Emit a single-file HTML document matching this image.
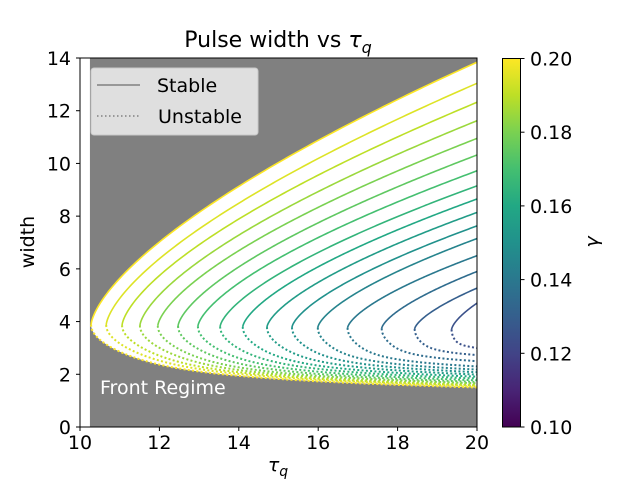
<!DOCTYPE html>
<html><head><meta charset="utf-8"><style>
html,body{margin:0;padding:0;background:#fff;}
svg{display:block;font-family:"DejaVu Sans","Liberation Sans",sans-serif;}
</style></head><body>
<svg id="chart" width="640" height="480" viewBox="0 0 640 480">
<defs><clipPath id="plotclip"><rect x="80" y="58" width="397" height="369"/></clipPath>
<linearGradient id="viridis" x1="0" y1="1" x2="0" y2="0">
<stop offset="0" stop-color="#440154"/><stop offset="0.1" stop-color="#482475"/><stop offset="0.2" stop-color="#414487"/><stop offset="0.3" stop-color="#355f8d"/><stop offset="0.4" stop-color="#2a788e"/><stop offset="0.5" stop-color="#21918c"/><stop offset="0.6" stop-color="#22a884"/><stop offset="0.7" stop-color="#44bf70"/><stop offset="0.8" stop-color="#7ad151"/><stop offset="0.9" stop-color="#bddf26"/><stop offset="1" stop-color="#fde725"/>
</linearGradient></defs>
<g id="plot" clip-path="url(#plotclip)"></g>
<rect x="80" y="58" width="397" height="369" fill="none" stroke="#000" stroke-width="1"/>
<g id="axes"></g>
<text x="278" y="47" font-size="22" text-anchor="middle">Pulse width vs <tspan font-style="italic">τ</tspan><tspan font-style="italic" font-size="16" dy="6">q</tspan></text>
<text x="278" y="471" font-size="19" text-anchor="middle"><tspan font-style="italic">τ</tspan><tspan font-style="italic" font-size="14" dy="5">q</tspan></text>
<text transform="translate(34,242) rotate(-90)" font-size="19" text-anchor="middle">width</text>
<g>
<rect x="91" y="68" width="167" height="67" rx="3" fill="#e5e5e5" stroke="#cccccc" stroke-width="1" opacity="0.95"/>
<line x1="97" y1="85" x2="140" y2="85" stroke="#808080" stroke-width="1.5"/>
<text x="157" y="92" font-size="19">Stable</text>
<line x1="97" y1="116" x2="140" y2="116" stroke="#808080" stroke-width="1.5" stroke-dasharray="1.5 2.5"/>
<text x="158" y="123" font-size="19">Unstable</text>
</g>
<text x="100" y="394" font-size="19" fill="#fff">Front Regime</text>
<rect x="502.5" y="58.5" width="18" height="368.5" fill="url(#viridis)" stroke="#000" stroke-width="1"/>
<g id="cbticks"></g>
<text transform="translate(598,242) rotate(-90)" font-size="19" text-anchor="middle" font-style="italic">γ</text>
</svg>
<script>
const gammas = [0.2,0.195,0.19,0.185,0.18,0.175,0.17,0.165,0.16,0.155,0.15,0.145,0.14,0.135,0.13,0.125];
const tipTau = [10.28,10.66,11.06,11.51,11.96,12.47,12.97,13.53,14.1,14.71,15.34,15.99,16.74,17.6,18.43,19.36];
const tipWidth = [3.88,3.87,3.86,3.85,3.84,3.83,3.82,3.81,3.8,3.79,3.78,3.77,3.76,3.74,3.72,3.7];
const upperWidthAt20 = [13.84,13.04,12.32,11.62,10.95,10.32,9.72,9.15,8.65,8.14,7.63,7.15,6.5,5.9,5.27,4.7];
const lowerWidthAt20 = [1.5,1.55,1.58,1.62,1.66,1.71,1.77,1.84,1.91,1.99,2.08,2.18,2.3,2.5,2.73,3.0];
const xTicks = [10,12,14,16,18,20];
const yTicks = [0,2,4,6,8,10,12,14];
const cbTicks = [0.10,0.12,0.14,0.16,0.18,0.20];

const NS='http://www.w3.org/2000/svg';
const X0=80,X1=477,Y0=427,Y1=58;
function xs(t){return X0+(t-10)/(20-10)*(X1-X0);}
function ys(w){return Y0-(w-0)/(14-0)*(Y0-Y1);}
function cbY(g){return 427-(g-0.1)/0.1*(427-58.5);}
const vir=[[68,1,84],[72,36,117],[65,68,135],[53,95,141],[42,120,142],[33,145,140],[34,168,132],[68,191,112],[122,209,81],[189,223,38],[253,231,37]];
function viridis(f){f=Math.max(0,Math.min(1,f))*10;const i=Math.min(9,Math.floor(f)),r=f-i;
 const c=vir[i].map((v,k)=>Math.round(v+(vir[i+1][k]-v)*r));return `rgb(${c[0]},${c[1]},${c[2]})`;}
function h(u){return Math.pow(u,1.5);}
function k(v){return 0.4*v*v+0.6*Math.pow(v,8);}
function upperPts(i){const p=[];for(let j=0;j<=160;j++){const u=j/160;const w=tipWidth[i]+u*(upperWidthAt20[i]-tipWidth[i]);const t=tipTau[i]+(20-tipTau[i])*h(u);p.push([xs(t),ys(w)]);}return p;}
function lowerPts(i){const p=[];for(let j=0;j<=200;j++){const v=j/200;const w=tipWidth[i]-v*(tipWidth[i]-lowerWidthAt20[i]);const t=tipTau[i]+(20-tipTau[i])*k(v);p.push([xs(t),ys(w)]);}return p;}
function d(p){return 'M'+p.map(q=>q[0].toFixed(2)+','+q[1].toFixed(2)).join('L');}

const plot=document.getElementById('plot');
const bg=document.createElementNS(NS,'rect');
bg.setAttribute('x',xs(10.25));bg.setAttribute('y',Y1);bg.setAttribute('width',X1-xs(10.25));bg.setAttribute('height',Y0-Y1);bg.setAttribute('fill','#808080');


plot.appendChild(bg);
const env=document.createElementNS(NS,'path');
const up0=upperPts(0),lo0=lowerPts(0);
env.setAttribute('d',d(up0.slice().reverse().concat(lo0))+'L'+xs(20.5)+','+ys(1.5)+'L'+xs(20.5)+','+ys(14)+'Z');
env.setAttribute('fill','#fff');


plot.appendChild(env);
for(let i=gammas.length-1;i>=0;i--){
 const col=viridis((gammas[i]-0.1)/0.1);
 const lo=document.createElementNS(NS,'path');
 lo.setAttribute('d',d(lowerPts(i)));lo.setAttribute('fill','none');lo.setAttribute('stroke',col);lo.setAttribute('stroke-width','2');lo.setAttribute('stroke-dasharray','2 2.3');
 
 
 plot.appendChild(lo);
 const up=document.createElementNS(NS,'path');
 up.setAttribute('d',d(upperPts(i)));up.setAttribute('fill','none');up.setAttribute('stroke',col);up.setAttribute('stroke-width','1.6');
 
 
 plot.appendChild(up);
}
const axes=document.getElementById('axes');
xTicks.forEach(t=>{
 const l=document.createElementNS(NS,'line');l.setAttribute('x1',xs(t));l.setAttribute('x2',xs(t));l.setAttribute('y1',427);l.setAttribute('y2',431);l.setAttribute('stroke','#000');
 
 
 axes.appendChild(l);
 const s=document.createElementNS(NS,'text');s.setAttribute('x',xs(t));s.setAttribute('y',449);s.setAttribute('font-size','19');s.setAttribute('text-anchor','middle');s.textContent=t;
 
 
 axes.appendChild(s);
});
yTicks.forEach(w=>{
 const l=document.createElementNS(NS,'line');l.setAttribute('x1',76);l.setAttribute('x2',80);l.setAttribute('y1',ys(w));l.setAttribute('y2',ys(w));l.setAttribute('stroke','#000');
 
 
 axes.appendChild(l);
 const s=document.createElementNS(NS,'text');s.setAttribute('x',71);s.setAttribute('y',ys(w)+7);s.setAttribute('font-size','19');s.setAttribute('text-anchor','end');s.textContent=w;
 
 
 axes.appendChild(s);
});
const cbt=document.getElementById('cbticks');
cbTicks.forEach(g=>{
 const l=document.createElementNS(NS,'line');l.setAttribute('x1',520.5);l.setAttribute('x2',524.5);l.setAttribute('y1',cbY(g));l.setAttribute('y2',cbY(g));l.setAttribute('stroke','#000');
 
 
 cbt.appendChild(l);
 const s=document.createElementNS(NS,'text');s.setAttribute('x',530);s.setAttribute('y',cbY(g)+7);s.setAttribute('font-size','19');s.textContent=g.toFixed(2);
 
 
 cbt.appendChild(s);
});
</script>
</body></html>
